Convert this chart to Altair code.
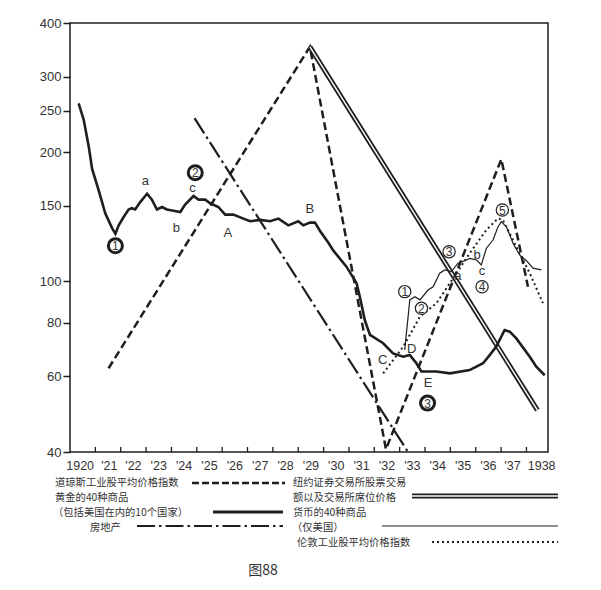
import altair as alt
import pandas as pd

# ---------------- data ----------------
gold_years = [1920.34, 1920.54, 1920.74, 1920.87, 1921.13, 1921.39, 1921.66, 1921.79, 1921.92,
              1922.11, 1922.31, 1922.44, 1922.57, 1922.77, 1923.04, 1923.23, 1923.43, 1923.63,
              1923.82, 1924.08, 1924.35, 1924.54, 1924.87, 1925.07, 1925.33, 1925.53, 1925.85,
              1926.12, 1926.44, 1926.84, 1927.10, 1927.50, 1927.89, 1928.22, 1928.61, 1929.00,
              1929.20, 1929.46, 1929.66, 1929.86, 1930.19, 1930.38, 1930.91, 1931.30, 1931.43,
              1931.63, 1931.83, 1932.35, 1932.74, 1933.14, 1933.40, 1933.66, 1933.86, 1934.45,
              1934.98, 1935.76, 1936.29, 1936.55, 1936.81, 1937.14, 1937.34, 1937.60, 1938.13,
              1938.39, 1938.72]
gold_values = [260, 238, 206, 183, 163, 144, 133, 129, 135,
               141, 147, 148, 147, 153, 160, 155, 147, 149,
               147, 146, 145, 151, 158, 155, 155, 152, 149,
               143, 143, 140, 138, 139, 138, 140, 135, 138,
               135, 137, 137, 131, 123, 118, 108, 99, 92,
               81, 75, 71.7, 67.9, 66.7, 67.3, 64.4, 61.6, 61.6,
               61, 62.1, 64.4, 67.3, 70.4, 77, 76.3, 73.6, 66.7,
               63.2, 60.4]

us_years = [1933.20, 1933.40, 1933.60, 1933.80, 1934.12, 1934.32, 1934.58, 1934.78, 1935.04,
            1935.30, 1935.57, 1935.76, 1936.03, 1936.22, 1936.42, 1936.68, 1936.88, 1937.01,
            1937.21, 1937.47, 1937.73, 1938.00, 1938.26, 1938.59]
us_values = [69.2, 90.5, 92.0, 90.5, 95.4, 97.1, 104.4, 106.3, 105.3,
             110.2, 111.7, 113.1, 112.1, 109.2, 119.4, 124.8, 134.0, 137.7,
             134.0, 122.6, 115.2, 111.7, 107.3, 106.3]

london_years = [1932.35, 1933.14, 1933.80, 1934.45, 1935.11, 1935.76, 1936.42, 1936.88,
                1937.07, 1937.60, 1938.13, 1938.65]
london_values = [61.0, 70.4, 82.7, 88.9, 101.6, 116.2, 131.7, 140.2, 139.0, 120.4, 104.4, 88.9]

dow_years = [1921.52, 1929.46, 1932.46, 1937.01, 1938.06]
dow_values = [62.7, 352, 40.6, 192.5, 97.1]

nyse_years = [1929.46, 1938.43]
nyse_values = [352, 50.1]

realestate_years = [1924.91, 1933.33]
realestate_values = [240, 40]

y_ticks = [40, 60, 80, 100, 150, 200, 250, 300, 400]
x_tick_years = list(range(1921, 1939))
x_labels = ["1920", "'21", "'22", "'23", "'24", "'25", "'26", "'27", "'28", "'29",
            "'30", "'31", "'32", "'33", "'34", "'35", "'36", "'37", "1938"]
x_label_pos = [1920.40, 1921.55, 1922.5, 1923.5, 1924.5, 1925.5, 1926.5, 1927.5, 1928.5, 1929.5,
               1930.5, 1931.5, 1932.5, 1933.5, 1934.5, 1935.5, 1936.5, 1937.45, 1938.6]

letter_text = ["a", "b", "c", "A", "B", "C", "D", "E", "a", "b", "c"]
letter_years = [1922.97, 1924.19, 1924.83, 1926.22, 1929.46, 1932.33, 1933.47, 1934.12,
                1935.30, 1936.05, 1936.25]
letter_values = [171.3, 133.3, 165.2, 129.8, 147.2, 65.5, 69.4, 57.8, 102.9, 115.2, 105.7]

bold_circ_text = ["1", "2", "3"]
bold_circ_years = [1921.79, 1924.94, 1934.10]
bold_circ_values = [121.0, 179.1, 52.0]

thin_circ_text = ["1", "2", "3", "4", "5"]
thin_circ_years = [1933.20, 1933.86, 1934.95, 1936.25, 1937.05]
thin_circ_values = [94.6, 86.5, 117.2, 97.1, 146.6]

legend_labels = ["道琼斯工业股平均价格指数", "黄金的40种商品", "（包括美国在内的10个国家）", "房地产",
                 "纽约证券交易所股票交易", "额以及交易所席位价格", "货币的40种商品", "（仅美国）",
                 "伦敦工业股平均价格指数"]
caption = "图88"

# ---------------- chart ----------------
W, H = 478, 429
INK = "#1e1e1e"
TXT = "#333333"
LATIN = "Liberation Sans"
CJK = "Noto Sans CJK SC"
LFS = 10.3

xs = alt.Scale(domain=[1920, 1938.85], nice=False, zero=False)
ys = alt.Scale(type="log", domain=[40, 400], nice=False)
Y_AXIS = alt.Axis(values=y_ticks, format="d", title=None, grid=False, domain=False,
                  tickSize=7, tickWidth=1.5, tickColor=INK, labelFont=LATIN, labelFontSize=13,
                  labelColor=TXT, labelPadding=2)

X = lambda f="year": alt.X(f + ":Q", scale=xs, axis=None)
Y = lambda f="value": alt.Y(f + ":Q", scale=ys, axis=Y_AXIS)


def series(years, values, color=INK, **mark):
    df = pd.DataFrame({"year": years, "value": values})
    return alt.Chart(df).mark_line(color=color, strokeJoin="miter", **mark).encode(x=X(), y=Y())


x_ticks = alt.Chart(pd.DataFrame({"year": x_tick_years})).mark_rule(color=INK, strokeWidth=1.3).encode(
    x=X(), y=alt.value(H), y2=alt.value(H - 5))

x_lab_df = pd.DataFrame({"year": x_label_pos, "label": x_labels})
x_lab = alt.Chart(x_lab_df).mark_text(font=LATIN, fontSize=12.5, color=TXT, baseline="middle",
                                      align="center").encode(
    x=X(), y=alt.value(H + 13.5), text="label:N")

gold = series(gold_years, gold_values, strokeWidth=2.6)
us = series(us_years, us_values, strokeWidth=1.2)
london = series(london_years, london_values, strokeWidth=2, strokeDash=[2, 3])
dow = series(dow_years, dow_values, strokeWidth=2.5, strokeDash=[8, 4])
nyse_outer = series(nyse_years, nyse_values, strokeWidth=5)
nyse_inner = series(nyse_years, nyse_values, color="white", strokeWidth=1.4)
realestate = series(realestate_years, realestate_values, strokeWidth=2.2, strokeDash=[18, 4, 2.5, 4])

letters = alt.Chart(pd.DataFrame({"year": letter_years, "value": letter_values, "t": letter_text})).mark_text(
    font=LATIN, fontSize=13, color=TXT, baseline="middle").encode(x=X(), y=Y(), text="t:N")

bold_df = pd.DataFrame({"year": bold_circ_years, "value": bold_circ_values, "t": bold_circ_text})
bold_ring = alt.Chart(bold_df).mark_point(shape="circle", filled=False, size=196, strokeWidth=3,
                                          color=INK, opacity=1).encode(x=X(), y=Y())
bold_num = alt.Chart(bold_df).mark_text(font=LATIN, fontSize=12, color=TXT, baseline="middle",
                                        dy=0.5).encode(x=X(), y=Y(), text="t:N")

thin_df = pd.DataFrame({"year": thin_circ_years, "value": thin_circ_values, "t": thin_circ_text})
thin_ring = alt.Chart(thin_df).mark_point(shape="circle", filled=True, size=150, stroke=INK,
                                          strokeWidth=1.2, fill="white", opacity=1).encode(x=X(), y=Y())
thin_num = alt.Chart(thin_df).mark_text(font=LATIN, fontSize=12, color=TXT, baseline="middle",
                                        dy=0.5).encode(x=X(), y=Y(), text="t:N")

one = pd.DataFrame({"k": [0]})


def ltext(txt, x, y, size=LFS, font=CJK):
    return alt.Chart(one).mark_text(text=txt, font=font, fontSize=size, color=TXT, align="left",
                                    baseline="middle").encode(x=alt.value(x), y=alt.value(y))


def lline(x1, x2, y, color=INK, **kw):
    return alt.Chart(one).mark_rule(color=color, **kw).encode(
        x=alt.value(x1), x2=alt.value(x2), y=alt.value(y))


legend = [
    ltext(legend_labels[0], -15, 460),
    lline(122, 215, 460, strokeWidth=2.5, strokeDash=[7, 3]),
    ltext(legend_labels[1], -15, 475),
    ltext(legend_labels[2], -17, 490),
    lline(143, 213, 489, strokeWidth=3),
    ltext(legend_labels[3], 20, 505),
    lline(67, 213, 503, strokeWidth=2.2, strokeDash=[18, 4, 2.5, 4]),
    ltext(legend_labels[4], 223, 460),
    ltext(legend_labels[5], 223, 475),
    lline(342, 488, 473, strokeWidth=5),
    lline(342, 488, 473, color="white", strokeWidth=1.4),
    ltext(legend_labels[6], 223, 490),
    ltext(legend_labels[7], 222, 505),
    lline(312, 488, 503, strokeWidth=1.2),
    ltext(legend_labels[8], 227, 520),
    lline(362, 488, 519, strokeWidth=2, strokeDash=[2, 3]),
    alt.Chart(one).mark_text(text=caption, font=CJK, fontSize=14, color=TXT, align="center",
                             baseline="middle").encode(x=alt.value(193), y=alt.value(548)),
]

chart = alt.layer(
    x_ticks, x_lab,
    realestate, dow, nyse_outer, nyse_inner, gold, us, london,
    letters, bold_ring, bold_num, thin_ring, thin_num,
    *legend,
).properties(
    width=W, height=H,
    padding={"left": 62, "top": 15, "right": 30, "bottom": 130},
    autosize=alt.AutoSizeParams(type="none"),
    background="white",
).configure_view(stroke=INK, strokeWidth=1.5)

chart.save("out.html", embed_options={"renderer": "svg", "actions": False})
